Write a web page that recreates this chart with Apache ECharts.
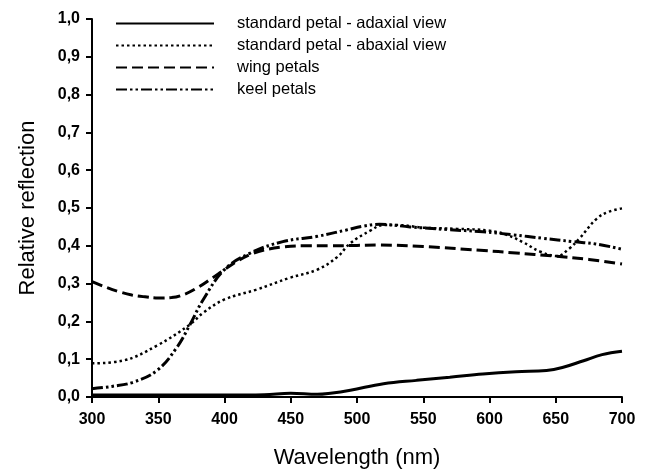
<!DOCTYPE html>
<html>
<head>
<meta charset="utf-8">
<script src="https://cdn.jsdelivr.net/npm/echarts@6/dist/echarts.min.js"></script>
<style>
  html, body { margin: 0; padding: 0; background: #fff; }
  #chart { width: 646px; height: 474px; }
</style>
</head>
<body>
<div id="chart"></div>
<script>
// reflection spectra
var seriesNames = ['standard petal - adaxial view', 'standard petal - abaxial view', 'wing petals', 'keel petals']

var adaxialNm  = [300, 350, 400, 430, 450, 470, 480, 495, 520, 545, 570, 595, 620, 643, 655, 671, 685, 700]
var adaxialVal = [0.005, 0.005, 0.005, 0.006, 0.01, 0.007, 0.01, 0.018, 0.035, 0.044, 0.052, 0.061, 0.067, 0.07, 0.078, 0.096, 0.112, 0.121]

var abaxialNm  = [300, 323, 349, 374, 384, 400, 424, 449, 470, 485, 495, 510, 520, 530, 550, 575, 600, 613, 625, 638, 651, 660, 668, 681, 690, 700]
var abaxialVal = [0.089, 0.096, 0.136, 0.192, 0.223, 0.258, 0.284, 0.315, 0.337, 0.37, 0.407, 0.44, 0.455, 0.455, 0.448, 0.445, 0.44, 0.429, 0.41, 0.385, 0.373, 0.392, 0.42, 0.472, 0.49, 0.499]

var wingNm  = [300, 310, 320, 330, 340, 350, 360, 370, 380, 390, 400, 410, 420, 430, 444, 460, 480, 500, 517, 550, 593, 620, 648, 675, 700]
var wingVal = [0.305, 0.291, 0.279, 0.27, 0.265, 0.262, 0.263, 0.272, 0.29, 0.313, 0.337, 0.36, 0.378, 0.389, 0.397, 0.4, 0.4, 0.401, 0.402, 0.398, 0.388, 0.381, 0.373, 0.364, 0.352]

var keelNm  = [300, 315, 331, 349, 364, 374, 384, 400, 419, 444, 470, 492, 505, 517, 540, 568, 595, 618, 640, 663, 680, 700]
var keelVal = [0.022, 0.028, 0.039, 0.07, 0.131, 0.192, 0.258, 0.337, 0.38, 0.411, 0.425, 0.442, 0.452, 0.457, 0.45, 0.443, 0.437, 0.429, 0.42, 0.411, 0.405, 0.391]

function pairs(xs, ys) {
  return xs.map(function (x, i) { return [x, ys[i]] })
}

var lineTypes = ['solid', [2.5, 3], [11, 5], [11, 3, 2.5, 3, 2.5, 3]]
var lineWidths = [3, 2.5, 3, 3]
var allData = [
  pairs(adaxialNm, adaxialVal),
  pairs(abaxialNm, abaxialVal),
  pairs(wingNm, wingVal),
  pairs(keelNm, keelVal)
]

var myChart = echarts.init(document.getElementById('chart'))

var axisText = { color: '#000', fontFamily: 'Arial, Liberation Sans', fontSize: 16, fontWeight: 'bold' }

var option = {
  animation: false,
  backgroundColor: '#fff',
  grid: { left: 92, right: 24, top: 19, bottom: 74 },
  legend: {
    orient: 'vertical',
    left: 110,
    top: 10,
    itemWidth: 98,
    itemHeight: 14,
    itemGap: 5,
    itemStyle: { opacity: 0 },
    textStyle: { color: '#000', fontFamily: 'Arial, Liberation Sans', fontSize: 16.5, padding: [0, 0, 0, 18] },
    data: seriesNames
  },
  xAxis: {
    type: 'value',
    min: 300,
    max: 700,
    interval: 50,
    name: 'Wavelength (nm)',
    nameLocation: 'middle',
    nameGap: 50,
    nameTextStyle: { color: '#000', fontFamily: 'Arial, Liberation Sans', fontSize: 22 },
    axisLine: { lineStyle: { color: '#000', width: 2 } },
    axisTick: { length: 6, lineStyle: { color: '#000', width: 2 } },
    axisLabel: Object.assign({ margin: 15 }, axisText),
    splitLine: { show: false }
  },
  yAxis: {
    type: 'value',
    min: 0,
    max: 1,
    interval: 0.1,
    name: 'Relative reflection',
    nameLocation: 'middle',
    nameGap: 53,
    nameTextStyle: { color: '#000', fontFamily: 'Arial, Liberation Sans', fontSize: 22 },
    axisLine: { show: true, lineStyle: { color: '#000', width: 2 } },
    axisTick: { show: true, length: 6, lineStyle: { color: '#000', width: 2 } },
    axisLabel: Object.assign({
      margin: 12,
      formatter: function (v) { return v.toFixed(1).replace('.', ',') }
    }, axisText),
    splitLine: { show: false }
  },
  series: seriesNames.map(function (name, i) {
    return {
      name: name,
      type: 'line',
      smooth: 0.4,
      symbol: 'none',
      data: allData[i],
      itemStyle: { color: '#000' },
      lineStyle: { color: '#000', width: lineWidths[i], type: lineTypes[i] }
    }
  })
}

myChart.setOption(option)
</script>
</body>
</html>
